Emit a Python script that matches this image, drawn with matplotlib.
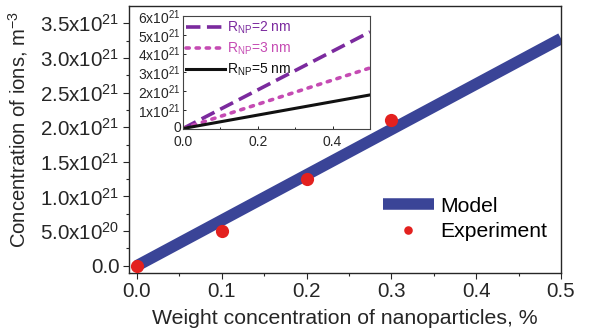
import matplotlib
matplotlib.use("Agg")
import matplotlib.pyplot as plt
import matplotlib.transforms as mtransforms
import numpy as np

plt.rcParams['font.family'] = ['Liberation Sans', 'DejaVu Sans']
plt.rcParams['mathtext.fontset'] = 'custom'
plt.rcParams['mathtext.rm'] = 'Liberation Sans'
plt.rcParams['mathtext.it'] = 'Liberation Sans:italic'
plt.rcParams['mathtext.default'] = 'regular'

# Main data
model_x = [0.0, 0.5]
model_y = [0.0, 3.28e21]
exp_x = [0.0, 0.1, 0.2, 0.3]
exp_y = [0.0, 0.50e21, 1.25e21, 2.11e21]

main_yticks = [0.0, 0.5e21, 1.0e21, 1.5e21, 2.0e21, 2.5e21, 3.0e21, 3.5e21]
main_yticklabels = ['0.0', '5.0x10$^{20}$', '1.0x10$^{21}$', '1.5x10$^{21}$',
                    '2.0x10$^{21}$', '2.5x10$^{21}$', '3.0x10$^{21}$', '3.5x10$^{21}$']
main_xticks = [0.0, 0.1, 0.2, 0.3, 0.4, 0.5]
main_xticklabels = ['0.0', '0.1', '0.2', '0.3', '0.4', '0.5']

# Inset data
inset_x = [0.0, 0.5]
r2_y = [0.0, 5.15e21]
r3_y = [0.0, 3.23e21]
r5_y = [0.0, 1.79e21]
inset_yticks = [0, 1e21, 2e21, 3e21, 4e21, 5e21, 6e21]
inset_yticklabels = ['0', '1x10$^{21}$', '2x10$^{21}$', '3x10$^{21}$',
                     '4x10$^{21}$', '5x10$^{21}$', '6x10$^{21}$']
inset_xticks = [0.0, 0.2, 0.4]
inset_xticklabels = ['0.0', '0.2', '0.4']

W, H = 591, 334
fig = plt.figure(figsize=(W/100, H/100), dpi=100)
TXT = '#262626'

def box(l, t, r, b):
    return [l/W, 1 - b/H, (r-l)/W, (b-t)/H]

ax = fig.add_axes(box(129, 6, 561, 273))
ax.plot(model_x, model_y, color='#3a4497', lw=8.3, solid_capstyle='butt', label='Model', zorder=2)
ax.plot(exp_x, exp_y, 'o', color='#e3211f', ms=9.5, mec='none', label='Experiment', zorder=3)
ax.set_xlim(-0.0094, 0.5)
ax.set_ylim(-0.105e21, 3.75e21)
ax.set_xticks(main_xticks)
ax.set_xticklabels(main_xticklabels)
ax.set_yticks(main_yticks)
ax.set_yticklabels(main_yticklabels)
ax.set_xticks(np.arange(0.05, 0.5, 0.1), minor=True)
ax.set_yticks(np.arange(0.25e21, 3.75e21, 0.5e21), minor=True)
ax.tick_params(which='major', direction='out', length=4.3, width=0.8, labelsize=14.8, pad=2.5, colors=TXT)
ax.tick_params(which='minor', direction='out', length=2.5, width=0.8, colors=TXT)
for s in ax.spines.values():
    s.set_linewidth(1.0)
    s.set_color(TXT)
ax.set_xlabel('Weight concentration of nanoparticles, %', fontsize=15.3, labelpad=5.5, color=TXT)
ax.set_ylabel('Concentration of ions, m$^{-3}$', fontsize=14.6, color=TXT)
ax.yaxis.set_label_coords((30 - 129) / 432, (273 - 129) / 267)
leg = ax.legend(loc='center left', bbox_to_anchor=((383-129)/432, (273-219)/267), frameon=False,
                fontsize=15.2, handlelength=2.4, handletextpad=0.3, labelspacing=0.3,
                borderaxespad=0.0, borderpad=0.0, markerscale=0.65)

# Inset
ins = fig.add_axes(box(183, 16, 370, 128.5))
ins.plot(inset_x, r2_y, color='#7b2a9e', lw=2.6, dashes=(4, 1.8), label='R$_{NP}$=2 nm')
ins.plot(inset_x, r3_y, color='#c54bb3', lw=2.6, dashes=(0.9, 1.9), dash_capstyle='round', label='R$_{NP}$=3 nm')
ins.plot(inset_x, r5_y, color='#111111', lw=2.2, label='R$_{NP}$=5 nm')
ins.set_xlim(0, 0.5)
ins.set_ylim(0, 6.0e21)
ins.set_xticks(inset_xticks)
ins.set_xticklabels(inset_xticklabels)
ins.set_yticks(inset_yticks)
ins.set_yticklabels(inset_yticklabels)
ins.set_xticks([0.1, 0.3], minor=True)
ins.tick_params(which='major', direction='in', length=2.5, width=0.7, labelsize=10, pad=1.5, colors=TXT)
ins.tick_params(which='minor', direction='in', length=1.5, width=0.7, colors=TXT)
ins.tick_params(axis='x', which='major', pad=4.5)
for s in ins.spines.values():
    s.set_linewidth(0.8)
    s.set_color('#444444')
# nudge the crowded corner label up slightly
lab0 = ins.get_yticklabels()[0]
lab0.set_transform(lab0.get_transform() + mtransforms.ScaledTranslation(0, 1.2/72, fig.dpi_scale_trans))
ileg = ins.legend(loc='upper left', frameon=False, fontsize=10, handlelength=2.8,
                  handletextpad=0.15, labelspacing=0.35, borderaxespad=0.0, borderpad=0.25)
for t, l in zip(ileg.get_texts(), ins.get_lines()):
    t.set_color(l.get_color())

fig.savefig('out.png', dpi=100)
